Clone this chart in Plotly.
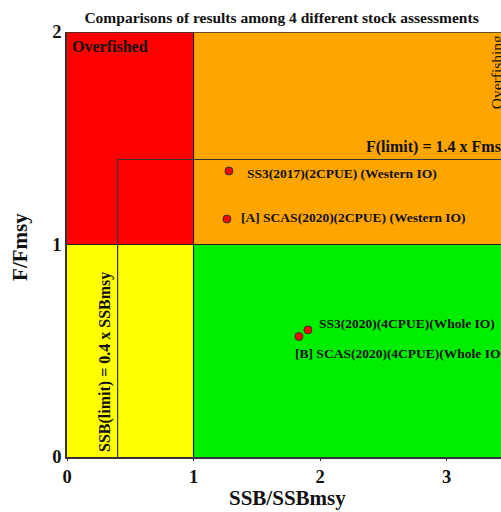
import plotly.graph_objects as go

# Data
labels = ["SS3(2017)(2CPUE) (Western IO)", "[A] SCAS(2020)(2CPUE) (Western IO)",
          "SS3(2020)(4CPUE)(Whole IO)", "[B] SCAS(2020)(4CPUE)(Whole IO)"]
ssb_ratio = [1.28, 1.264, 1.904, 1.833]
f_ratio = [1.346, 1.12, 0.598, 0.567]

F_LIMIT = 1.4
SSB_LIMIT = 0.4
XMAX = 3.43
FONT = "Liberation Serif"

fig = go.Figure()

# quadrants
quads = [
    (0, 1, 1, 2, "#ff0000"),
    (1, XMAX, 1, 2, "#ffa500"),
    (0, 1, 0, 1, "#ffff00"),
    (1, XMAX, 0, 1, "#00ee00"),
]
for x0, x1, y0, y1, c in quads:
    fig.add_shape(type="rect", x0=x0, x1=x1, y0=y0, y1=y1, xref="x", yref="y",
                  fillcolor=c, line=dict(width=0), layer="below")

# quadrant borders
fig.add_shape(type="line", x0=1, x1=1, y0=0, y1=2, line=dict(color="#222", width=1.2))
fig.add_shape(type="line", x0=0, x1=XMAX, y0=1, y1=1, line=dict(color="#222", width=1.2))
fig.add_shape(type="line", x0=0, x1=XMAX, y0=2, y1=2, line=dict(color="#333", width=1.5))
# limit reference lines
fig.add_shape(type="line", x0=SSB_LIMIT, x1=XMAX, y0=F_LIMIT, y1=F_LIMIT, line=dict(color="#333", width=1.2))
fig.add_shape(type="line", x0=SSB_LIMIT, x1=SSB_LIMIT, y0=0, y1=F_LIMIT, line=dict(color="#333", width=1.2))

fig.add_trace(go.Scatter(x=ssb_ratio, y=f_ratio, mode="markers",
                         marker=dict(color="#ff0000", size=8, line=dict(color="#333", width=1)),
                         showlegend=False, hoverinfo="skip"))

# point labels
label_pos = [(1.41, 1.336), (1.362, 1.125), (1.978, 0.626), (1.788, 0.489)]
for t, (lx, ly) in zip(labels, label_pos):
    fig.add_annotation(x=lx, y=ly, text=t, showarrow=False, xanchor="left", yanchor="middle",
                       font=dict(family=FONT, size=13.5, color="#111", weight="bold"))

fig.add_annotation(x=0.025, y=1.934, text="Overfished", showarrow=False, xanchor="left",
                   yanchor="middle", font=dict(family=FONT, size=16, color="#111", weight="bold"))
fig.add_annotation(x=2.35, y=1.459, text="F(limit) = 1.4 x Fmsy", showarrow=False, xanchor="left",
                   yanchor="middle", font=dict(family=FONT, size=16, color="#111", weight="bold"))
fig.add_annotation(x=0.3, y=0.447, text="SSB(limit) = 0.4 x SSBmsy", showarrow=False,
                   textangle=-90, xanchor="center", yanchor="middle",
                   font=dict(family=FONT, size=16, color="#111", weight="bold"))
fig.add_annotation(x=3.397, y=1.81, text="Overfishing", showarrow=False, textangle=-90,
                   xanchor="center", yanchor="middle", font=dict(family=FONT, size=15.5, color="#111"))

# axis titles
fig.add_annotation(xref="paper", yref="paper", x=-0.11, y=0.495, text="F/Fmsy", textangle=-90,
                   xanchor="center", yanchor="middle",
                   showarrow=False, font=dict(family=FONT, size=21, color="#111", weight="bold"))
fig.add_annotation(xref="paper", yref="paper", x=0.507, y=-0.097, text="SSB/SSBmsy",
                   xanchor="center", yanchor="middle",
                   showarrow=False, font=dict(family=FONT, size=21, color="#111", weight="bold"))

fig.update_layout(
    width=501, height=512,
    margin=dict(l=67, r=0, t=32, b=55),
    paper_bgcolor="white", plot_bgcolor="white",
    title=dict(text="Comparisons of results among 4 different stock assessments",
               x=0.562, xanchor="center", y=0.966, yanchor="middle",
               font=dict(family=FONT, size=15.5, color="#111", weight="bold")),
    xaxis=dict(range=[0, XMAX], tickvals=[0, 1, 2, 3], showgrid=False, zeroline=False,
               showline=True, linecolor="#333", linewidth=1.5, ticks="outside", ticklen=2,
               tickcolor="#333", tickfont=dict(family=FONT, size=18.5, color="#111", weight="bold")),
    yaxis=dict(range=[0, 2], tickvals=[0, 1, 2], showgrid=False, zeroline=False,
               showline=True, linecolor="#333", linewidth=1.5, ticks="",
               tickfont=dict(family=FONT, size=18.5, color="#111", weight="bold")),
)

fig.write_html("out.html", config={"displayModeBar": False},
               post_script="document.body.style.margin='0';")
